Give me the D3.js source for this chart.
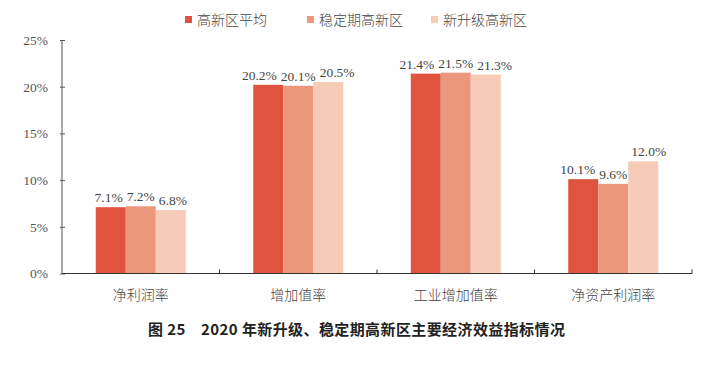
<!DOCTYPE html>
<html><head><meta charset="utf-8">
<script src="https://cdn.jsdelivr.net/npm/d3@7"></script>
<style>body{margin:0;background:#fff}svg{display:block}</style>
</head><body>
<svg id="c" width="728" height="369"></svg>
<script>
const categories = ["净利润率", "增加值率", "工业增加值率", "净资产利润率"];
const seriesNames = ["高新区平均", "稳定期高新区", "新升级高新区"];
const avgValues = [7.1, 20.2, 21.4, 10.1];
const stableValues = [7.2, 20.1, 21.5, 9.6];
const newValues = [6.8, 20.5, 21.3, 12.0];
const yTicks = [0, 5, 10, 15, 20, 25];
const colors = ["#E0533F", "#EB977C", "#F6CCB8"];
const caption = "图 25　2020 年新升级、稳定期高新区主要经济效益指标情况";

const series = [avgValues, stableValues, newValues];
const svg = d3.select("#c");
const x0 = 62, x1 = 692, yb = 273.5, yt = 40;
const x = d3.scaleBand().domain(categories).range([x0, x1]);
const y = d3.scaleLinear().domain([0, 25]).range([yb, yt]);
const barW = 30;
const xs = d3.scaleBand().domain(seriesNames).range([0, barW * 3]);
const serif = "'Liberation Serif', 'DejaVu Serif', serif";

// bars
const g = svg.append("g");
categories.forEach((c, i) => {
  const gx = x(c) + x.bandwidth() / 2 - barW * 1.5;
  const labels = [];
  series.forEach((s, j) => {
    g.append("rect")
      .attr("x", gx + xs(seriesNames[j]))
      .attr("y", y(s[i]))
      .attr("width", xs.bandwidth())
      .attr("height", yb - y(s[i]))
      .attr("fill", colors[j]);
    const t = g.append("text")
      .attr("x", gx + xs(seriesNames[j]) + xs.bandwidth() / 2)
      .attr("y", y(s[i]) - 5)
      .attr("text-anchor", "middle")
      .style("font-family", serif)
      .attr("font-size", 13.5)
      .attr("fill", "#444")
      .text(s[i].toFixed(1) + "%");
    labels.push(t);
  });
  // spread labels so they don't collide (middle stays, outer ones move out)
  const gap = 4;
  const w = labels.map(t => t.node().getComputedTextLength());
  const cx = labels.map(t => +t.attr("x"));
  const need01 = (w[0] + w[1]) / 2 + gap;
  if (cx[1] - cx[0] < need01) labels[0].attr("x", cx[1] - need01);
  const need12 = (w[1] + w[2]) / 2 + gap;
  if (cx[2] - cx[1] < need12) labels[2].attr("x", cx[1] + need12);
});

// y axis
const ya = svg.append("g").attr("transform", `translate(${x0},0)`)
  .call(d3.axisLeft(y).tickValues(yTicks).tickFormat(d => d + "%").tickSize(2).tickPadding(12));
ya.select(".domain").attr("stroke", "#555").attr("d", `M0,${yb}V${yt}`);
ya.selectAll(".tick line").attr("stroke", "#555").attr("x1", -2).attr("x2", 3);
ya.selectAll(".tick text").style("font-family", serif)
  .attr("font-size", 13.5).attr("fill", "#555");

// x axis
const xa = svg.append("g").attr("transform", `translate(0,${yb})`)
  .call(d3.axisBottom(x).tickSize(0).tickPadding(17));
xa.select(".domain").attr("stroke", "#333").attr("d", `M${x0},0H${x1}`);
xa.selectAll(".tick text").style("font-family", "'Noto Sans CJK SC', sans-serif")
  .attr("font-weight", 300).attr("font-size", 14).attr("fill", "#444");
// boundary ticks between categories
const bounds = categories.slice(1).map(c => x(c)).concat([x1]);
svg.append("g").selectAll("line").data(bounds).join("line")
  .attr("x1", d => d).attr("x2", d => d)
  .attr("y1", yb - 4).attr("y2", yb)
  .attr("stroke", "#333");

// legend
const legendX = [185, 307, 431];
const lg = svg.append("g");
seriesNames.forEach((n, j) => {
  lg.append("rect").attr("x", legendX[j]).attr("y", 16).attr("width", 7).attr("height", 7).attr("fill", colors[j]);
  lg.append("text").attr("x", legendX[j] + 12).attr("y", 25)
    .style("font-family", "'Noto Sans CJK SC', sans-serif").attr("font-weight", 300)
    .attr("font-size", 14).attr("fill", "#444").text(n);
});

// caption
svg.append("text").attr("x", 148).attr("y", 335)
  .style("font-family", "'Noto Sans CJK SC', sans-serif").attr("font-weight", 700)
  .attr("font-size", 15).attr("letter-spacing", 0.4).attr("fill", "#222").text(caption);
</script>
</body></html>
